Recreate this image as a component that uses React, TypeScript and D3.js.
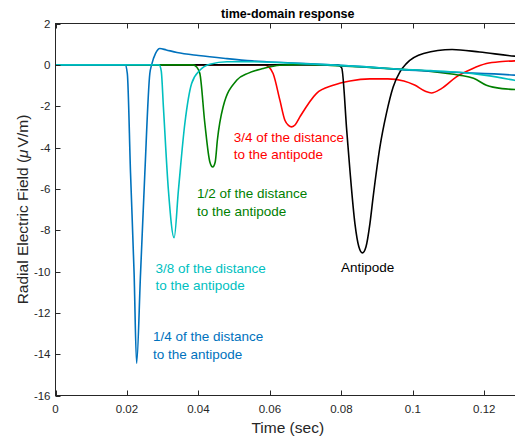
import React, { useEffect, useRef } from 'react';
import * as d3 from 'd3';

// time (sec), field (uV/m)
const quarterPts: [number, number][] = [
  [0, 0], [0.0195, 0], [0.0201, -0.42], [0.021, -5.25], [0.022, -10.1], [0.0227, -14.45],
  [0.0238, -10.1], [0.025, -5.25], [0.0264, -0.42], [0.0269, 0], [0.028, 0.55], [0.0292, 0.79],
  [0.031, 0.72], [0.034, 0.6], [0.04, 0.45], [0.048, 0.3], [0.055, 0.19], [0.065, 0.1],
  [0.077, 0], [0.087, -0.1], [0.097, -0.23], [0.11, -0.35], [0.1285, -0.5], [0.13, -0.52],
];
const threeEighthsPts: [number, number][] = [
  [0, 0], [0.029, 0], [0.0296, -0.3], [0.0302, -2.04], [0.0316, -6.07], [0.0332, -8.37],
  [0.0344, -6.07], [0.0362, -2.84], [0.0381, -0.9], [0.0404, -0.26], [0.0432, 0.03],
  [0.048, 0.15], [0.055, 0.15], [0.065, 0.09], [0.077, 0], [0.087, -0.1], [0.097, -0.22],
  [0.105, -0.28], [0.113, -0.36], [0.12, -0.5], [0.1285, -0.75], [0.13, -0.8],
];
const halfPts: [number, number][] = [
  [0, 0], [0.0385, 0], [0.0395, -0.1], [0.0404, -0.42], [0.0418, -2.84], [0.0432, -4.7],
  [0.044, -4.94], [0.0447, -4.7], [0.0453, -3.65], [0.0469, -2.04], [0.0507, -0.75],
  [0.054, -0.4], [0.0581, -0.18], [0.0628, -0.02], [0.07, 0.02], [0.077, -0.03], [0.087, -0.12],
  [0.097, -0.22], [0.105, -0.32], [0.113, -0.5], [0.117, -0.65], [0.1206, -0.99],
  [0.125, -1.15], [0.13, -1.2],
];
const threeQuarterPts: [number, number][] = [
  [0, 0], [0.0585, 0], [0.0597, -0.1], [0.0609, -0.42], [0.0628, -1.71], [0.0642, -2.68],
  [0.0652, -2.93], [0.0661, -3.0], [0.0671, -2.9], [0.0684, -2.52], [0.073, -1.39],
  [0.0777, -0.99], [0.0824, -0.78], [0.088, -0.68], [0.093, -0.68], [0.0975, -0.78],
  [0.1005, -0.98], [0.1035, -1.28], [0.1052, -1.36], [0.108, -1.15], [0.1122, -0.58],
  [0.1165, -0.2], [0.1206, 0.06], [0.125, 0.16], [0.13, 0.2],
];
const antipodePts: [number, number][] = [
  [0, 0], [0.079, 0], [0.0801, -0.15], [0.0815, -3.16], [0.0824, -5.1], [0.0838, -7.68],
  [0.0849, -8.8], [0.0859, -9.1], [0.0869, -8.8], [0.088, -7.68], [0.0889, -6.39],
  [0.0908, -3.97], [0.0926, -2.36], [0.0945, -1.07], [0.0964, -0.34], [0.0982, 0.06],
  [0.103, 0.55], [0.111, 0.74], [0.1187, 0.62], [0.1285, 0.42], [0.13, 0.4],
];

const seriesColors = ['#0072BD', '#00BFBF', '#008000', '#FF0000', '#000000'];
const labelLines = [
  ['1/4 of the distance', 'to the antipode'],
  ['3/8 of the distance', 'to the antipode'],
  ['1/2 of the distance', 'to the antipode'],
  ['3/4 of the distance', 'to the antipode'],
  ['Antipode'],
];
const xTicks = [0, 0.02, 0.04, 0.06, 0.08, 0.1, 0.12];
const yTicks = [-16, -14, -12, -10, -8, -6, -4, -2, 0, 2];

const W = 515, H = 438;
const FONT = '"Liberation Sans", Arial, Helvetica, sans-serif';

export default function App() {
  const ref = useRef<SVGSVGElement>(null);

  useEffect(() => {
    const svg = d3.select(ref.current);
    svg.selectAll('*').remove();

    const left = 55.5, top = 23.5, right = 520, bottom = 395.5;
    const x = d3.scaleLinear().domain([0, 0.13]).range([left, right]);
    const y = d3.scaleLinear().domain([-16, 2]).range([bottom, top]);
    const axisColor = '#262626';

    svg.append('defs').append('clipPath').attr('id', 'plotArea')
      .append('rect').attr('x', left).attr('y', top)
      .attr('width', right - left).attr('height', bottom - top);

    // curves
    const line = d3.line<[number, number]>()
      .x(d => x(d[0])).y(d => y(d[1]))
      .curve(d3.curveMonotoneX);
    const allSeries = [quarterPts, threeEighthsPts, halfPts, threeQuarterPts, antipodePts];
    // draw order: red first so the others sit on top, like the picture
    const order = [3, 4, 2, 0, 1];
    const plot = svg.append('g').attr('clip-path', 'url(#plotArea)');
    order.forEach(i => {
      plot.append('path')
        .attr('d', line(allSeries[i]))
        .attr('fill', 'none')
        .attr('stroke', seriesColors[i])
        .attr('stroke-width', 1.6)
        .attr('stroke-linejoin', 'round');
    });

    // box + inward ticks
    const box = svg.append('g').attr('stroke', axisColor).attr('stroke-width', 1).attr('fill', 'none');
    box.append('rect').attr('x', left).attr('y', top).attr('width', right - left).attr('height', bottom - top);
    const tl = 5;
    xTicks.forEach(t => {
      const px = Math.round(x(t)) + 0.5;
      box.append('line').attr('x1', px).attr('x2', px).attr('y1', bottom).attr('y2', bottom - tl);
      box.append('line').attr('x1', px).attr('x2', px).attr('y1', top).attr('y2', top + tl);
    });
    yTicks.forEach(v => {
      const py = Math.round(y(v)) + 0.5;
      box.append('line').attr('x1', left).attr('x2', left + tl).attr('y1', py).attr('y2', py);
      box.append('line').attr('x1', right).attr('x2', right - tl).attr('y1', py).attr('y2', py);
    });

    const text = svg.append('g').attr('font-family', FONT);

    // tick labels
    text.selectAll('.xt').data(xTicks).enter().append('text')
      .attr('x', d => x(d)).attr('y', 408.5)
      .attr('text-anchor', 'middle').attr('dominant-baseline', 'central')
      .attr('font-size', 11.5).attr('fill', axisColor)
      .text(d => d3.format('')(d));
    text.selectAll('.yt').data(yTicks).enter().append('text')
      .attr('x', 50.5).attr('y', d => y(d))
      .attr('text-anchor', 'end').attr('dominant-baseline', 'central')
      .attr('font-size', 11.5).attr('fill', axisColor)
      .text(d => String(d));

    // axis labels + title
    text.append('text')
      .attr('x', (left + right) / 2).attr('y', 427)
      .attr('text-anchor', 'middle').attr('dominant-baseline', 'central')
      .attr('font-size', 15.5).attr('fill', axisColor)
      .text('Time (sec)');
    const yl = text.append('text')
      .attr('transform', `translate(21.5,${(top + bottom) / 2}) rotate(-90)`)
      .attr('text-anchor', 'middle').attr('dominant-baseline', 'central')
      .attr('font-size', 15.5).attr('fill', axisColor);
    yl.append('tspan').text('Radial Electric Field (');
    yl.append('tspan').attr('font-style', 'italic').text('\u03bc');
    yl.append('tspan').attr('dx', 2).text('V/m)');
    text.append('text')
      .attr('x', (left + right) / 2).attr('y', 13.5)
      .attr('text-anchor', 'middle').attr('dominant-baseline', 'central')
      .attr('font-size', 12.5).attr('font-weight', 'bold').attr('fill', '#000')
      .text('time-domain response');

    // annotations, anchored in data units
    const anchors: [number, number][] = [
      [0.0273, -13.13], [0.028, -9.83], [0.0396, -6.21], [0.0499, -3.49], [0.0799, -9.79],
    ];
    labelLines.forEach((lines, i) => {
      const t = text.append('text')
        .attr('font-size', 13.5).attr('fill', seriesColors[i])
        .attr('dominant-baseline', 'central');
      lines.forEach((s, k) => {
        t.append('tspan')
          .attr('x', x(anchors[i][0]))
          .attr('y', y(anchors[i][1]) + k * 17.5)
          .text(s);
      });
    });
  }, []);

  return (
    <svg ref={ref} width={W} height={H}
         style={{ position: 'absolute', left: 0, top: 0, background: '#fff' }} />
  );
}
